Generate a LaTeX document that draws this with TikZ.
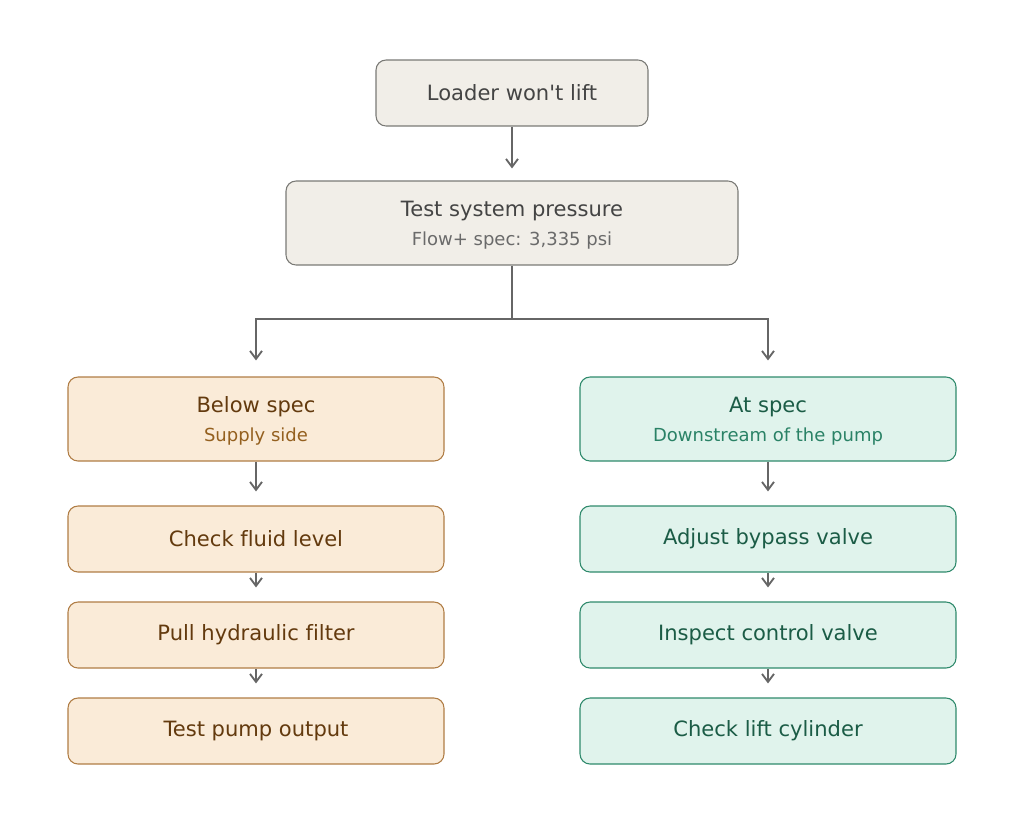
\documentclass[tikz,border=0pt]{standalone}
\usepackage{fontspec}
\setmainfont{DejaVu Sans}[Ligatures={TeXOff,NoCommon}]
\usetikzlibrary{arrows.meta}

\definecolor{greyfill}{HTML}{F1EEE8}
\definecolor{greyline}{HTML}{7A7A76}
\definecolor{greytext}{HTML}{444444}
\definecolor{greysub}{HTML}{6A6A6A}
\definecolor{tanfill}{HTML}{FAEBD8}
\definecolor{tanline}{HTML}{B07D45}
\definecolor{tantext}{HTML}{633A0E}
\definecolor{tansub}{HTML}{94601F}
\definecolor{mintfill}{HTML}{E0F3EC}
\definecolor{mintline}{HTML}{2F8A6C}
\definecolor{minttext}{HTML}{1B5C46}
\definecolor{mintsub}{HTML}{2A8266}
\definecolor{wire}{HTML}{666666}

\tikzset{
  box/.style={draw, rounded corners=7.5pt, line width=0.8pt, align=center,
    minimum height=49.5pt, font=\fontsize{15.8}{18}\selectfont},
  neutral/.style={box, fill=greyfill, draw=greyline, text=greytext},
  supply/.style={box, fill=tanfill, draw=tanline, text=tantext, minimum width=282pt},
  downstream/.style={box, fill=mintfill, draw=mintline, text=minttext, minimum width=282pt},
  flow/.style={-{Straight Barb[length=6pt,width=9pt]}, line width=1.4pt, draw=wire},
}
\newcommand{\subline}[1]{\rule{0pt}{15pt}\\[4pt]{\fontsize{13.5}{16}\selectfont #1}}

\begin{document}
\begin{tikzpicture}[x=0.75pt,y=-0.75pt]
  \useasboundingbox (0,0) rectangle (1024,825);

  \node[neutral, minimum width=204pt] (loader) at (512,93) {Loader won't lift};
  \node[neutral, minimum width=339pt, minimum height=63pt] (pressure) at (512,223)
    {Test system pressure\subline{\color{greysub}Flow+ spec: 3,335 psi}};

  % low pressure branch
  \node[supply, minimum height=63pt] (below) at (256,419)
    {Below spec\subline{\color{tansub}Supply side}};
  \node[supply] (fluid) at (256,539) {Check fluid level};
  \node[supply] (filter) at (256,635) {Pull hydraulic filter};
  \node[supply] (pump) at (256,731) {Test pump output};

  % normal pressure branch
  \node[downstream, minimum height=63pt] (atspec) at (768,419)
    {At spec\subline{\color{mintsub}Downstream of the pump}};
  \node[downstream] (bypass) at (768,539) {Adjust bypass valve};
  \node[downstream] (control) at (768,635) {Inspect control valve};
  \node[downstream] (cylinder) at (768,731) {Check lift cylinder};

  \coordinate (split) at (512,319);

  \draw[flow, shorten >=9pt] (loader) -- (pressure);
  \draw[line width=1.4pt, draw=wire] (pressure) -- (split);
  \draw[flow, shorten >=12pt] (split) -| (below);
  \draw[flow, shorten >=12pt] (split) -| (atspec);

  \foreach \a/\b in {below/fluid, fluid/filter, filter/pump,
                     atspec/bypass, bypass/control, control/cylinder}
    \draw[flow, shorten >=10.5pt] (\a) -- (\b);
\end{tikzpicture}
\end{document}
